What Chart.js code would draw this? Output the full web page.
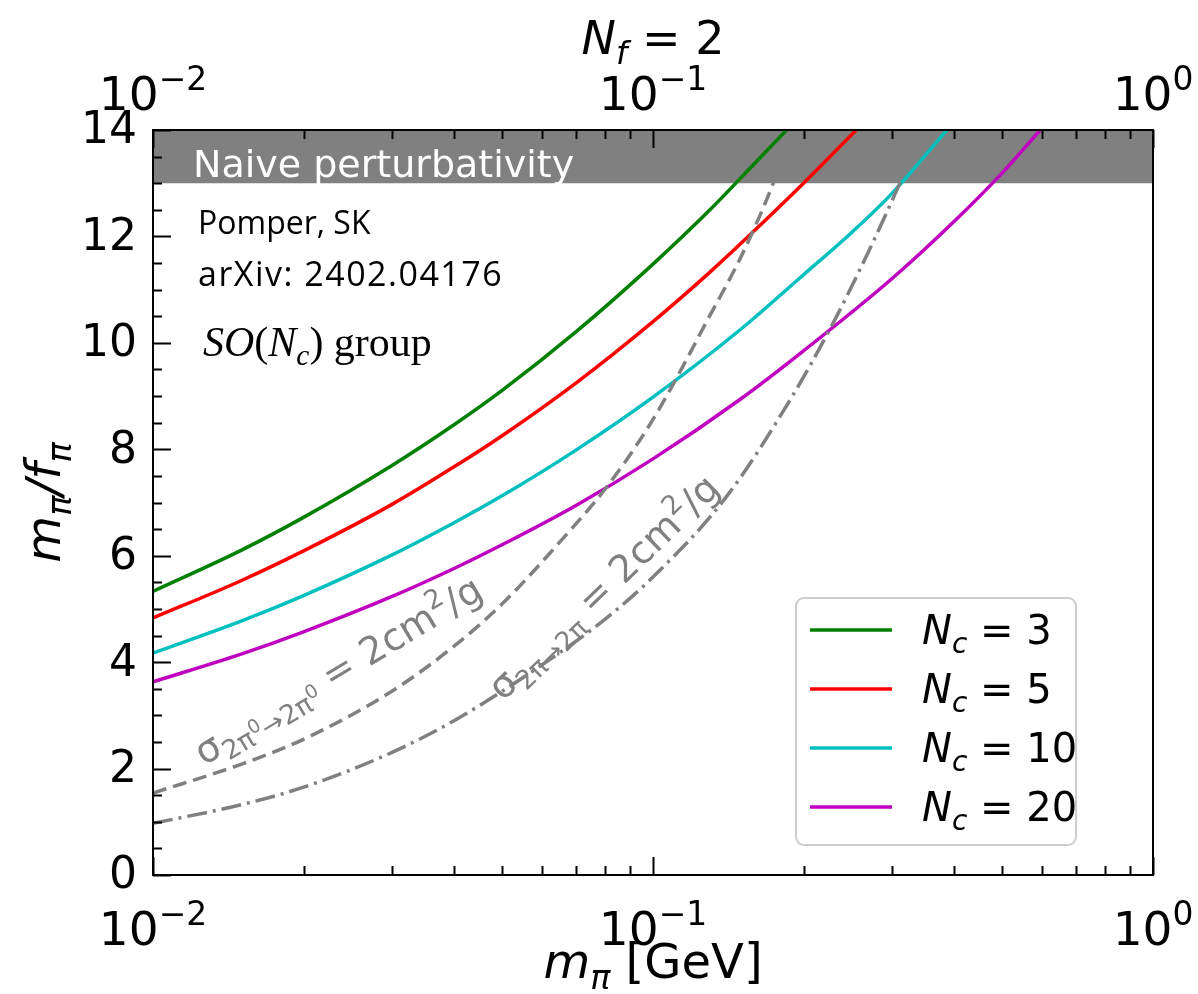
<!DOCTYPE html>
<html>
<head>
<meta charset="utf-8">
<script src="https://cdn.jsdelivr.net/npm/chart.js@4.4.0/dist/chart.umd.min.js"></script>
<style>
  html, body { margin: 0; padding: 0; background: #fff; }
  canvas { display: block; }
</style>
</head>
<body>
<canvas id="chart" width="1198" height="994"></canvas>
<script>
// values (x = m_pi in GeV, y = m_pi / f_pi)
const ncValues = ['3', '5', '10', '20'];
const ncColors = ['#008000', '#ff0000', '#00bfbf', '#bf00bf'];

const nc3Mass = [0.01, 0.015, 0.02, 0.03, 0.04, 0.05, 0.07, 0.1, 0.13, 0.16, 0.185];
const nc3Ratio = [5.33, 6.1, 6.72, 7.69, 8.46, 9.11, 10.2, 11.48, 12.5, 13.38, 14.0];

const nc5Mass = [0.01, 0.015, 0.02, 0.03, 0.04, 0.05, 0.07, 0.1, 0.13, 0.16, 0.2, 0.255];
const nc5Ratio = [4.83, 5.53, 6.09, 6.96, 7.67, 8.26, 9.24, 10.4, 11.33, 12.12, 13.0, 14.0];

const nc10Mass = [0.01, 0.015, 0.02, 0.03, 0.04, 0.05, 0.07, 0.1, 0.15, 0.2, 0.25, 0.3, 0.387];
const nc10Ratio = [4.17, 4.77, 5.25, 6.01, 6.62, 7.13, 7.98, 8.98, 10.26, 11.28, 12.08, 12.8, 14.0];

const nc20Mass = [0.01, 0.015, 0.02, 0.03, 0.04, 0.05, 0.07, 0.1, 0.15, 0.2, 0.3, 0.4, 0.5, 0.595];
const nc20Ratio = [3.63, 4.15, 4.57, 5.23, 5.76, 6.21, 6.94, 7.82, 8.95, 9.85, 11.2, 12.28, 13.2, 14.0];

// sigma(2pi0 -> 2pi0) = 2 cm^2/g  (dashed)
const neutralMass = [0.01, 0.015, 0.02, 0.03, 0.04, 0.05, 0.065, 0.08, 0.097, 0.11, 0.128, 0.15, 0.173, 0.19];
const neutralRatio = [1.54, 2.08, 2.55, 3.45, 4.3, 5.1, 6.25, 7.24, 8.36, 9.24, 10.4, 11.62, 12.94, 14.0];

// sigma(2pi -> 2pi) = 2 cm^2/g  (dash-dot)
const chargedMass = [0.01, 0.015, 0.02, 0.03, 0.04, 0.06, 0.08, 0.1, 0.14, 0.19, 0.23, 0.26, 0.31, 0.345];
const chargedRatio = [0.97, 1.32, 1.65, 2.3, 2.9, 3.95, 4.8, 5.6, 7.1, 9.0, 10.4, 11.4, 12.95, 14.0];

const bandLow = 13;
const xMin = 0.01, xMax = 1;
const yMin = 0, yMax = 14;
const yMajorTicks = [0, 2, 4, 6, 8, 10, 12, 14];
const xMajorTicks = [0.01, 0.1, 1];
const xTickExp = ['−2', '−1', '0'];

const pts = (xs, ys) => xs.map((x, i) => ({ x, y: ys[i] }));

const ncSeries = [pts(nc3Mass, nc3Ratio), pts(nc5Mass, nc5Ratio), pts(nc10Mass, nc10Ratio), pts(nc20Mass, nc20Ratio)];

const datasets = ncSeries.map((data, i) => ({
  label: 'N_c = ' + ncValues[i],
  data,
  borderColor: ncColors[i],
  borderWidth: 3.5,
  order: 2 + i,
  isNc: true
}));
datasets.push({
  label: 'sigma 2pi0',
  data: pts(neutralMass, neutralRatio),
  borderColor: '#808080',
  borderWidth: 3.5,
  borderDash: [14, 7],
  order: 0
});
datasets.push({
  label: 'sigma 2pi',
  data: pts(chargedMass, chargedRatio),
  borderColor: '#808080',
  borderWidth: 3.5,
  borderDash: [20, 6, 3, 6],
  order: 1
});
datasets.push({
  label: 'band',
  data: [{ x: xMin, y: bandLow }, { x: xMax, y: bandLow }],
  borderWidth: 0,
  borderColor: 'rgba(0,0,0,0)',
  backgroundColor: '#808080',
  fill: 'end',
  order: 20
});

const SANS = 'DejaVu Sans';

function fontOf(size, italic, family) {
  return (italic ? 'italic ' : '') + size + 'px "' + (family || SANS) + '"';
}

// draws a list of text parts with simple sub/superscripts
function drawRich(ctx, parts, x, y, size, align, family) {
  const segs = parts.map(p => {
    const k = p.k || (p.sub || p.sup ? 0.7 : 1);
    const s = size * k;
    ctx.font = fontOf(s, p.i, p.f || family);
    return Object.assign({}, p, { s, w: ctx.measureText(p.t).width });
  });
  const total = segs.reduce((a, b) => a + b.w, 0);
  let cx = align === 'center' ? x - total / 2 : align === 'right' ? x - total : x;
  ctx.textAlign = 'left';
  ctx.textBaseline = 'alphabetic';
  segs.forEach(p => {
    ctx.font = fontOf(p.s, p.i, p.f || family);
    let dy = 0;
    if (p.dy !== undefined) dy = p.dy * size;
    else if (p.sub) dy = size * 0.22;
    else if (p.sup) dy = -size * 0.42;
    ctx.fillText(p.t, cx, y + dy);
    cx += p.w;
  });
  return total;
}

const framePlugin = {
  id: 'frame',
  afterDraw(chart) {
    const { ctx, chartArea: a, scales } = chart;
    const xs = scales.x, ys = scales.y;
    ctx.save();

    // band text
    ctx.fillStyle = '#ffffff';
    ctx.font = fontOf(38);
    ctx.textAlign = 'left';
    ctx.textBaseline = 'alphabetic';
    ctx.fillText('Naive perturbativity', 193, ys.getPixelForValue(bandLow) - 6);

    // curve labels
    ctx.fillStyle = '#808080';
    ctx.save();
    ctx.translate(204, 766);
    ctx.rotate(-31 * Math.PI / 180);
    drawRich(ctx, [
      { t: 'σ' }, { t: '2π', sub: true }, { t: '0', k: 0.5, dy: -0.05 }, { t: '→2π', sub: true }, { t: '0', k: 0.5, dy: -0.05 },
      { t: ' = 2cm' }, { t: '2', sup: true }, { t: '/g' }
    ], 0, 0, 38, 'left');
    ctx.restore();
    ctx.save();
    ctx.translate(503, 702);
    ctx.rotate(-44 * Math.PI / 180);
    drawRich(ctx, [
      { t: 'σ' }, { t: '2π→2π', sub: true }, { t: ' = 2cm' }, { t: '2', sup: true }, { t: '/g' }
    ], 0, 0, 38, 'left');
    ctx.restore();

    // annotations
    ctx.fillStyle = '#000000';
    ctx.font = '32px "Open Sans"';
    ctx.fillText('Pomper, SK', 198, 234);
    ctx.font = '34px "Open Sans"';
    ctx.letterSpacing = '1.5px';
    ctx.fillText('arXiv: 2402.04176', 198, 286);
    ctx.letterSpacing = '0px';
    drawRich(ctx, [
      { t: 'SO', i: true }, { t: '(' }, { t: 'N', i: true }, { t: 'c', i: true, sub: true }, { t: ') group' }
    ], 203, 356, 42, 'left', 'Liberation Serif');

    // frame
    ctx.strokeStyle = '#000000';
    ctx.lineWidth = 2;
    ctx.strokeRect(a.left, a.top, a.right - a.left, a.bottom - a.top);

    // ticks, inward
    ctx.beginPath();
    for (let v = yMin; v <= yMax + 1e-9; v += 0.5) {
      const py = Math.round(ys.getPixelForValue(v)) + 0.5;
      const len = yMajorTicks.includes(v) ? 18 : 9;
      ctx.moveTo(a.left, py); ctx.lineTo(a.left + len, py);
    }
    for (let e = -2; e < 0; e++) {
      for (let m = 1; m <= 10; m++) {
        const v = m * Math.pow(10, e);
        const px = Math.round(xs.getPixelForValue(v)) + 0.5;
        const len = (m === 1 || m === 10) ? 18 : 9;
        ctx.moveTo(px, a.bottom); ctx.lineTo(px, a.bottom - len);
        ctx.moveTo(px, a.top); ctx.lineTo(px, a.top + len);
      }
    }
    ctx.stroke();

    // tick labels
    ctx.fillStyle = '#000000';
    ctx.font = fontOf(44);
    ctx.textAlign = 'right';
    ctx.textBaseline = 'middle';
    yMajorTicks.forEach(v => ctx.fillText(String(v), a.left - 16, ys.getPixelForValue(v) + 2));
    xMajorTicks.forEach((v, i) => {
      const px = xs.getPixelForValue(v);
      const parts = [{ t: '10' }, { t: xTickExp[i], sup: true }];
      drawRich(ctx, parts, px, a.bottom + 70, 47, 'center');
      drawRich(ctx, parts, px, a.top - 20, 47, 'center');
    });

    // axis titles
    drawRich(ctx, [{ t: 'm', i: true }, { t: 'π', i: true, sub: true }, { t: ' [GeV]' }],
      (a.left + a.right) / 2, 978, 48, 'center');
    drawRich(ctx, [{ t: 'N', i: true }, { t: 'f', i: true, sub: true }, { t: ' = 2' }],
      (a.left + a.right) / 2, 54, 46, 'center');
    ctx.save();
    ctx.translate(60, (a.top + a.bottom) / 2);
    ctx.rotate(-Math.PI / 2);
    drawRich(ctx, [{ t: 'm', i: true }, { t: 'π', i: true, sub: true }, { t: '/', i: true }, { t: 'f', i: true }, { t: 'π', i: true, sub: true }],
      0, 0, 48, 'center');
    ctx.restore();

    // legend
    const lx = 796, ly = 598, lw = 280, lh = 247;
    ctx.beginPath();
    ctx.roundRect(lx, ly, lw, lh, 8);
    ctx.fillStyle = 'rgba(255,255,255,0.8)';
    ctx.fill();
    ctx.strokeStyle = '#cccccc';
    ctx.lineWidth = 2;
    ctx.stroke();
    chart.data.datasets.filter(d => d.isNc).forEach((d, i) => {
      const ry = 630 + i * 59;
      ctx.strokeStyle = d.borderColor;
      ctx.lineWidth = 3.5;
      ctx.beginPath();
      ctx.moveTo(810, ry); ctx.lineTo(892, ry);
      ctx.stroke();
      ctx.fillStyle = '#000000';
      drawRich(ctx, [{ t: 'N', i: true }, { t: 'c', i: true, sub: true }, { t: ' = ' + ncValues[i] }], 922, ry + 14, 40, 'left');
    });

    ctx.restore();
  }
};

new Chart(document.getElementById('chart'), {
  type: 'line',
  data: { datasets },
  options: {
    responsive: false,
    animation: false,
    devicePixelRatio: 1,
    layout: { padding: { left: 153, right: 45, top: 130, bottom: 119 } },
    elements: {
      point: { radius: 0 },
      line: { cubicInterpolationMode: 'monotone', fill: false }
    },
    scales: {
      x: { type: 'logarithmic', min: xMin, max: xMax, display: false },
      y: { type: 'linear', min: yMin, max: yMax, display: false }
    },
    plugins: {
      legend: { display: false },
      tooltip: { enabled: false }
    }
  },
  plugins: [framePlugin]
});
</script>
</body>
</html>
